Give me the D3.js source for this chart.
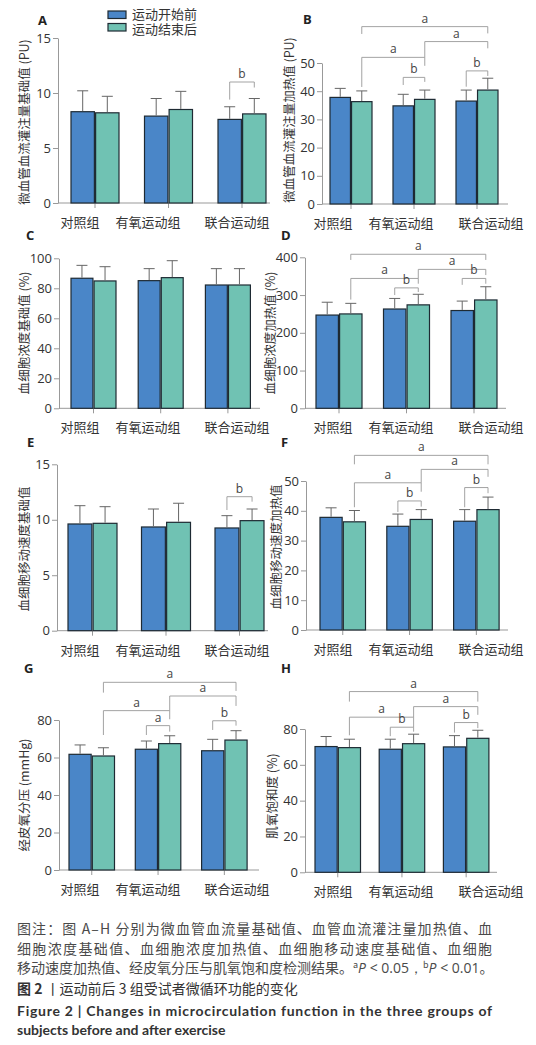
<!DOCTYPE html>
<meta charset="utf-8">
<style>
    body { margin: 0; background: #fff; }
    svg text { font-family: "Noto Sans CJK SC", sans-serif; fill: #333; }
    .tick text { font-family: "Open Sans", sans-serif; font-size: 13px; fill: #333; }
    .tick line, .domain, .xaxis { stroke: #999; stroke-width: 1; fill: none; }
    .bar { stroke: #1e2a33; stroke-width: 1.2; }
    .err { stroke: #666; stroke-width: 1; fill: none; }
    .bracket { stroke: #999; stroke-width: 0.9; fill: none; }
    .sig { font-family: "Open Sans", sans-serif; font-size: 12px; fill: #444; text-anchor: middle; }
    .letter { font-family: "Open Sans", sans-serif; font-weight: bold; font-size: 13px; fill: #222; }
    .ylab { font-size: 12.5px; text-anchor: middle; fill: #333; }
    .cat { font-size: 13px; text-anchor: middle; fill: #333; }
    .leg { font-family: "Liberation Sans", "Noto Sans CJK SC", sans-serif; font-size: 13px; fill: #333; }
    .cap { font-size: 14px; fill: #4a4a4a; }
    .en { font-family: Lato, "Open Sans", sans-serif; font-size: 14px; font-weight: bold; fill: #333; }
</style>

<body>
    <script src="https://cdn.jsdelivr.net/npm/d3@7"></script>
    <script>
        // ---- data ----
        var groups = ["对照组", "有氧运动组", "联合运动组"];
        var seriesNames = ["运动开始前", "运动结束后"];
        var colors = ["#4a86c8", "#70c2b3"];

        // A: 微血管血流灌注量基础值
        var aBefore = [8.3, 7.9, 7.6], aBeforeSd = [1.9, 1.6, 1.15];
        var aAfter = [8.2, 8.5, 8.1], aAfterSd = [1.5, 1.65, 1.4];
        var aTicks = [0, 5, 10, 15];
        var aBrackets = [[2, 0, 2, 1, "b", 11.0, 9.4, 10.5]];

        // B: 微血管血流灌注量加热值
        var bBefore = [37.8, 34.8, 36.5], bBeforeSd = [3.2, 4.1, 3.9];
        var bAfter = [36.3, 37.1, 40.4], bAfterSd = [3.8, 3.3, 4.2];
        var bTicks = [0, 10, 20, 30, 40, 50];
        var bBrackets = [
            [0, 1, 2, 1, "a", 62.9, 60.3, 60.5],
            [1, 1, 2, 1, "a", 57.6, 52.0, 55.2],
            [0, 1, 1, 1, "a", 52.0, 41.5, 49.0],
            [1, 0, 1, 1, "b", 44.9, 42.2, 43.3],
            [2, 0, 2, 1, "b", 47.2, 41.6, 45.4]
        ];

        // C: 血细胞浓度基础值
        var cBefore = [86.7, 85.1, 82.2], cBeforeSd = [8.6, 8.0, 10.9];
        var cAfter = [84.9, 87.1, 82.2], cAfterSd = [9.5, 11.3, 10.9];
        var cTicks = [0, 20, 40, 60, 80, 100];
        var cBrackets = [];

        // D: 血细胞浓度加热值
        var dBefore = [247, 263, 259], dBeforeSd = [34, 28, 25];
        var dAfter = [250, 274, 287], dAfterSd = [28, 28, 35];
        var dTicks = [0, 100, 200, 300, 400];
        var dBrackets = [
            [0, 1, 2, 1, "a", 408, 393, 393],
            [1, 1, 2, 1, "a", 368, 344, 353],
            [0, 1, 1, 1, "a", 344, 288, 330],
            [1, 0, 1, 1, "b", 319, 300, 308],
            [2, 0, 2, 1, "b", 344, 327, 330]
        ];

        // E: 血细胞移动速度基础值
        var eBefore = [9.62, 9.35, 9.26], eBeforeSd = [1.65, 1.62, 1.11];
        var eAfter = [9.68, 9.77, 9.92], eAfterSd = [1.5, 1.72, 1.05];
        var eTicks = [0, 5, 10, 15];
        var eBrackets = [[2, 0, 2, 1, "b", 12.08, 10.88, 11.63]];

        // F: 血细胞移动速度加热值
        var fBefore = [37.8, 34.8, 36.5], fBeforeSd = [3.2, 4.1, 3.9];
        var fAfter = [36.3, 37.1, 40.4], fAfterSd = [3.8, 3.3, 4.2];
        var fTicks = [0, 10, 20, 30, 40, 50];
        var fBrackets = [
            [0, 1, 2, 1, "a", 58.6, 55.6, 55.6],
            [1, 1, 2, 1, "a", 53.9, 49.4, 51.4],
            [0, 1, 1, 1, "a", 49.4, 41.2, 46.4],
            [1, 0, 1, 1, "b", 43.3, 39.6, 41.4],
            [2, 0, 2, 1, "b", 47.8, 41.2, 45.9]
        ];

        // G: 经皮氧分压
        var gBefore = [61.7, 64.4, 63.6], gBeforeSd = [5.0, 4.4, 6.1];
        var gAfter = [60.8, 67.4, 69.3], gAfterSd = [4.4, 4.2, 5.0];
        var gTicks = [0, 20, 40, 60, 80];
        var gBrackets = [
            [0, 1, 2, 1, "a", 100.1, 94.6, 95.5],
            [1, 1, 2, 1, "a", 92.8, 85.0, 87.5],
            [0, 1, 1, 1, "a", 85.0, 72.0, 80.4],
            [1, 0, 1, 1, "a", 77.0, 72.0, 73.8],
            [2, 0, 2, 1, "b", 79.6, 74.7, 77.0]
        ];

        // H: 肌氧饱和度
        var hBefore = [70.2, 68.7, 70.0], hBeforeSd = [5.6, 5.6, 6.3];
        var hAfter = [69.6, 71.8, 74.8], hAfterSd = [4.7, 5.3, 4.5];
        var hTicks = [0, 20, 40, 60, 80];
        var hBrackets = [
            [0, 1, 2, 1, "a", 100.9, 95.3, 95.3],
            [1, 1, 2, 1, "a", 92.5, 86.6, 87.9],
            [0, 1, 1, 1, "a", 86.6, 76.5, 81.0],
            [1, 0, 1, 1, "b", 81.0, 76.0, 78.5],
            [2, 0, 2, 1, "b", 83.6, 78.0, 80.5]
        ];

        // ---- layout of the eight panels (pixels) ----
        var panels = [
            { key: "A", ylabel: "微血管血流灌注量基础值 (PU)", m: [aBefore, aAfter], sd: [aBeforeSd, aAfterSd], ticks: aTicks, br: aBrackets,
              ax: 58, axEnd: 270, first: 71, pitch: 73.5, gw: 48, y0: 203, yTop: 38, labX: 25, labY: 122, lx: 38, ly: 25, col: 0 },
            { key: "B", ylabel: "微血管血流灌注量加热值 (PU)", m: [bBefore, bAfter], sd: [bBeforeSd, bAfterSd], ticks: bTicks, br: bBrackets,
              ax: 322, axEnd: 508, first: 330, pitch: 63, gw: 42, y0: 204, yTop: 63, labX: 290, labY: 120, lx: 303, ly: 24, col: 1 },
            { key: "C", ylabel: "血细胞浓度基础值 (%)", m: [cBefore, cAfter], sd: [cBeforeSd, cAfterSd], ticks: cTicks, br: cBrackets,
              ax: 59, axEnd: 260, first: 71, pitch: 67.2, gw: 45, y0: 408.3, yTop: 258.3, labX: 25, labY: 333, lx: 26, ly: 240, col: 0 },
            { key: "D", ylabel: "血细胞浓度加热值 (%)", m: [dBefore, dAfter], sd: [dBeforeSd, dAfterSd], ticks: dTicks, br: dBrackets,
              ax: 305, axEnd: 506, first: 316, pitch: 67.5, gw: 46, y0: 408.3, yTop: 257.3, labX: 271, labY: 333, lx: 281, ly: 240, col: 1 },
            { key: "E", ylabel: "血细胞移动速度基础值", m: [eBefore, eAfter], sd: [eBeforeSd, eAfterSd], ticks: eTicks, br: eBrackets,
              ax: 57, axEnd: 268, first: 68, pitch: 73.5, gw: 49, y0: 630.7, yTop: 464.3, labX: 25, labY: 549, lx: 27, ly: 447, col: 0 },
            { key: "F", ylabel: "血细胞移动速度加热值", m: [fBefore, fAfter], sd: [fBeforeSd, fAfterSd], ticks: fTicks, br: fBrackets,
              ax: 306, axEnd: 508, first: 320, pitch: 66.8, gw: 45.5, y0: 630, yTop: 481, labX: 277, labY: 547, lx: 281, ly: 447, col: 1 },
            { key: "G", ylabel: "经皮氧分压 (mmHg)", m: [gBefore, gAfter], sd: [gBeforeSd, gAfterSd], ticks: gTicks, br: gBrackets,
              ax: 59, axEnd: 259, first: 69, pitch: 66.3, gw: 45.5, y0: 870, yTop: 720, labX: 25, labY: 795, lx: 24, ly: 673, col: 0 },
            { key: "H", ylabel: "肌氧饱和度 (%)", m: [hBefore, hAfter], sd: [hBeforeSd, hAfterSd], ticks: hTicks, br: hBrackets,
              ax: 305, axEnd: 497, first: 315, pitch: 64.2, gw: 45.5, y0: 872.3, yTop: 729, labX: 273, labY: 796, lx: 281, ly: 673, col: 1 }
        ];
        // category labels sit at fixed spots per column in the original
        var catX = [[80, 148, 237], [333, 401, 491]];

        var svg = d3.select("body").append("svg")
            .attr("width", 536)
            .attr("height", 1045);

        // legend
        var legend = svg.append("g");
        seriesNames.forEach(function (s, i) {
            legend.append("rect").attr("class", "bar")
                .attr("x", 108).attr("y", 11 + i * 12.5)
                .attr("width", 18).attr("height", 7.5)
                .attr("fill", colors[i]);
            legend.append("text").attr("class", "leg")
                .attr("x", 132).attr("y", 19 + i * 15)
                .text(s);
        });

        panels.forEach(function (p) {
            var g = svg.append("g");
            var yMax = p.ticks[p.ticks.length - 1];
            var y = d3.scaleLinear().domain([0, yMax]).range([p.y0, p.yTop]);
            var x = d3.scaleBand().domain(groups)
                .range([p.first, p.first + 3 * p.pitch - (p.pitch - p.gw)])
                .paddingInner((p.pitch - p.gw) / p.pitch)
                .paddingOuter(0);
            var xs = d3.scaleBand().domain([0, 1]).range([0, x.bandwidth()]).paddingInner(0.05);
            var cx = function (gi, si) {
                return x(groups[gi]) + xs(si) + xs.bandwidth() / 2;
            };

            // y axis
            g.append("g")
                .attr("transform", "translate(" + p.ax + ",0)")
                .call(d3.axisLeft(y).tickValues(p.ticks).tickSize(5).tickSizeOuter(0).tickPadding(2));

            // x axis with ticks at group centres
            g.append("line").attr("class", "xaxis")
                .attr("x1", p.ax).attr("x2", p.axEnd)
                .attr("y1", p.y0).attr("y2", p.y0);
            groups.forEach(function (grp, gi) {
                var gx = x(grp) + x.bandwidth() / 2;
                g.append("line").attr("class", "xaxis")
                    .attr("x1", gx).attr("x2", gx)
                    .attr("y1", p.y0).attr("y2", p.y0 + 5);
                g.append("text").attr("class", "cat")
                    .attr("x", catX[p.col][gi]).attr("y", p.y0 + 24)
                    .text(grp);
            });

            // bars + error bars
            [0, 1].forEach(function (si) {
                groups.forEach(function (grp, gi) {
                    var v = p.m[si][gi];
                    var bx = x(grp) + xs(si);
                    var c = cx(gi, si);
                    var top = y(v + p.sd[si][gi]);
                    g.append("line").attr("class", "err")
                        .attr("x1", c - 5.5).attr("x2", c + 5.5)
                        .attr("y1", top).attr("y2", top);
                    g.append("rect").attr("class", "bar")
                        .attr("x", bx).attr("y", y(v))
                        .attr("width", xs.bandwidth())
                        .attr("height", p.y0 - y(v))
                        .attr("fill", colors[si]);
                    g.append("line").attr("class", "err")
                        .attr("x1", c).attr("x2", c)
                        .attr("y1", y(v) - 0.6).attr("y2", top);
                });
            });

            // significance brackets
            p.br.forEach(function (b) {
                var x1 = cx(b[0], b[1]), x2 = cx(b[2], b[3]);
                var yl = y(b[5]);
                g.append("path").attr("class", "bracket")
                    .attr("d", "M" + x1 + "," + y(b[6]) + "V" + yl + "H" + x2 + "V" + y(b[7]));
                g.append("text").attr("class", "sig")
                    .attr("x", (x1 + x2) / 2).attr("y", yl - 4)
                    .text(b[4]);
            });

            // y label and panel letter
            g.append("text").attr("class", "ylab")
                .attr("transform", "translate(" + p.labX + "," + p.labY + ") rotate(-90)")
                .attr("dy", "0.35em")
                .text(p.ylabel);
            g.append("text").attr("class", "letter")
                .attr("x", p.lx).attr("y", p.ly)
                .text(p.key);
        });

        // caption
        var cap = svg.append("g");
        cap.append("text").attr("class", "cap").attr("x", 17).attr("y", 934)
            .attr("textLength", 475).attr("lengthAdjust", "spacing")
            .text("图注：图 A–H 分别为微血管血流量基础值、血管血流灌注量加热值、血");
        cap.append("text").attr("class", "cap").attr("x", 17).attr("y", 954)
            .attr("textLength", 475).attr("lengthAdjust", "spacing")
            .text("细胞浓度基础值、血细胞浓度加热值、血细胞移动速度基础值、血细胞");
        var l3 = cap.append("text").attr("class", "cap").attr("x", 17).attr("y", 973);
        l3.append("tspan").text("移动速度加热值、经皮氧分压与肌氧饱和度检测结果。");
        l3.append("tspan").attr("dy", -5).style("font-size", "9px").text("a");
        l3.append("tspan").attr("dy", 5).style("font-style", "italic").style("font-family", "Open Sans").text("P");
        l3.append("tspan").style("font-family", "Open Sans").text(" < 0.05，");
        l3.append("tspan").attr("dy", -5).style("font-size", "9px").text("b");
        l3.append("tspan").attr("dy", 5).style("font-style", "italic").style("font-family", "Open Sans").text("P");
        l3.append("tspan").style("font-family", "Open Sans").text(" < 0.01");
        l3.append("tspan").text("。");

        var l4 = cap.append("text").attr("x", 17).attr("y", 994).style("font-size", "14px").style("fill", "#333");
        l4.append("tspan").style("font-weight", "bold").text("图 2 ");
        l4.append("tspan").text("丨运动前后 3 组受试者微循环功能的变化");

        cap.append("text").attr("class", "en").attr("x", 17).attr("y", 1016)
            .attr("textLength", 475).attr("lengthAdjust", "spacing")
            .text("Figure 2  |  Changes in microcirculation function in the three groups of");
        cap.append("text").attr("class", "en").attr("x", 17).attr("y", 1035)
            .text("subjects before and after exercise");
    </script>
</body>
